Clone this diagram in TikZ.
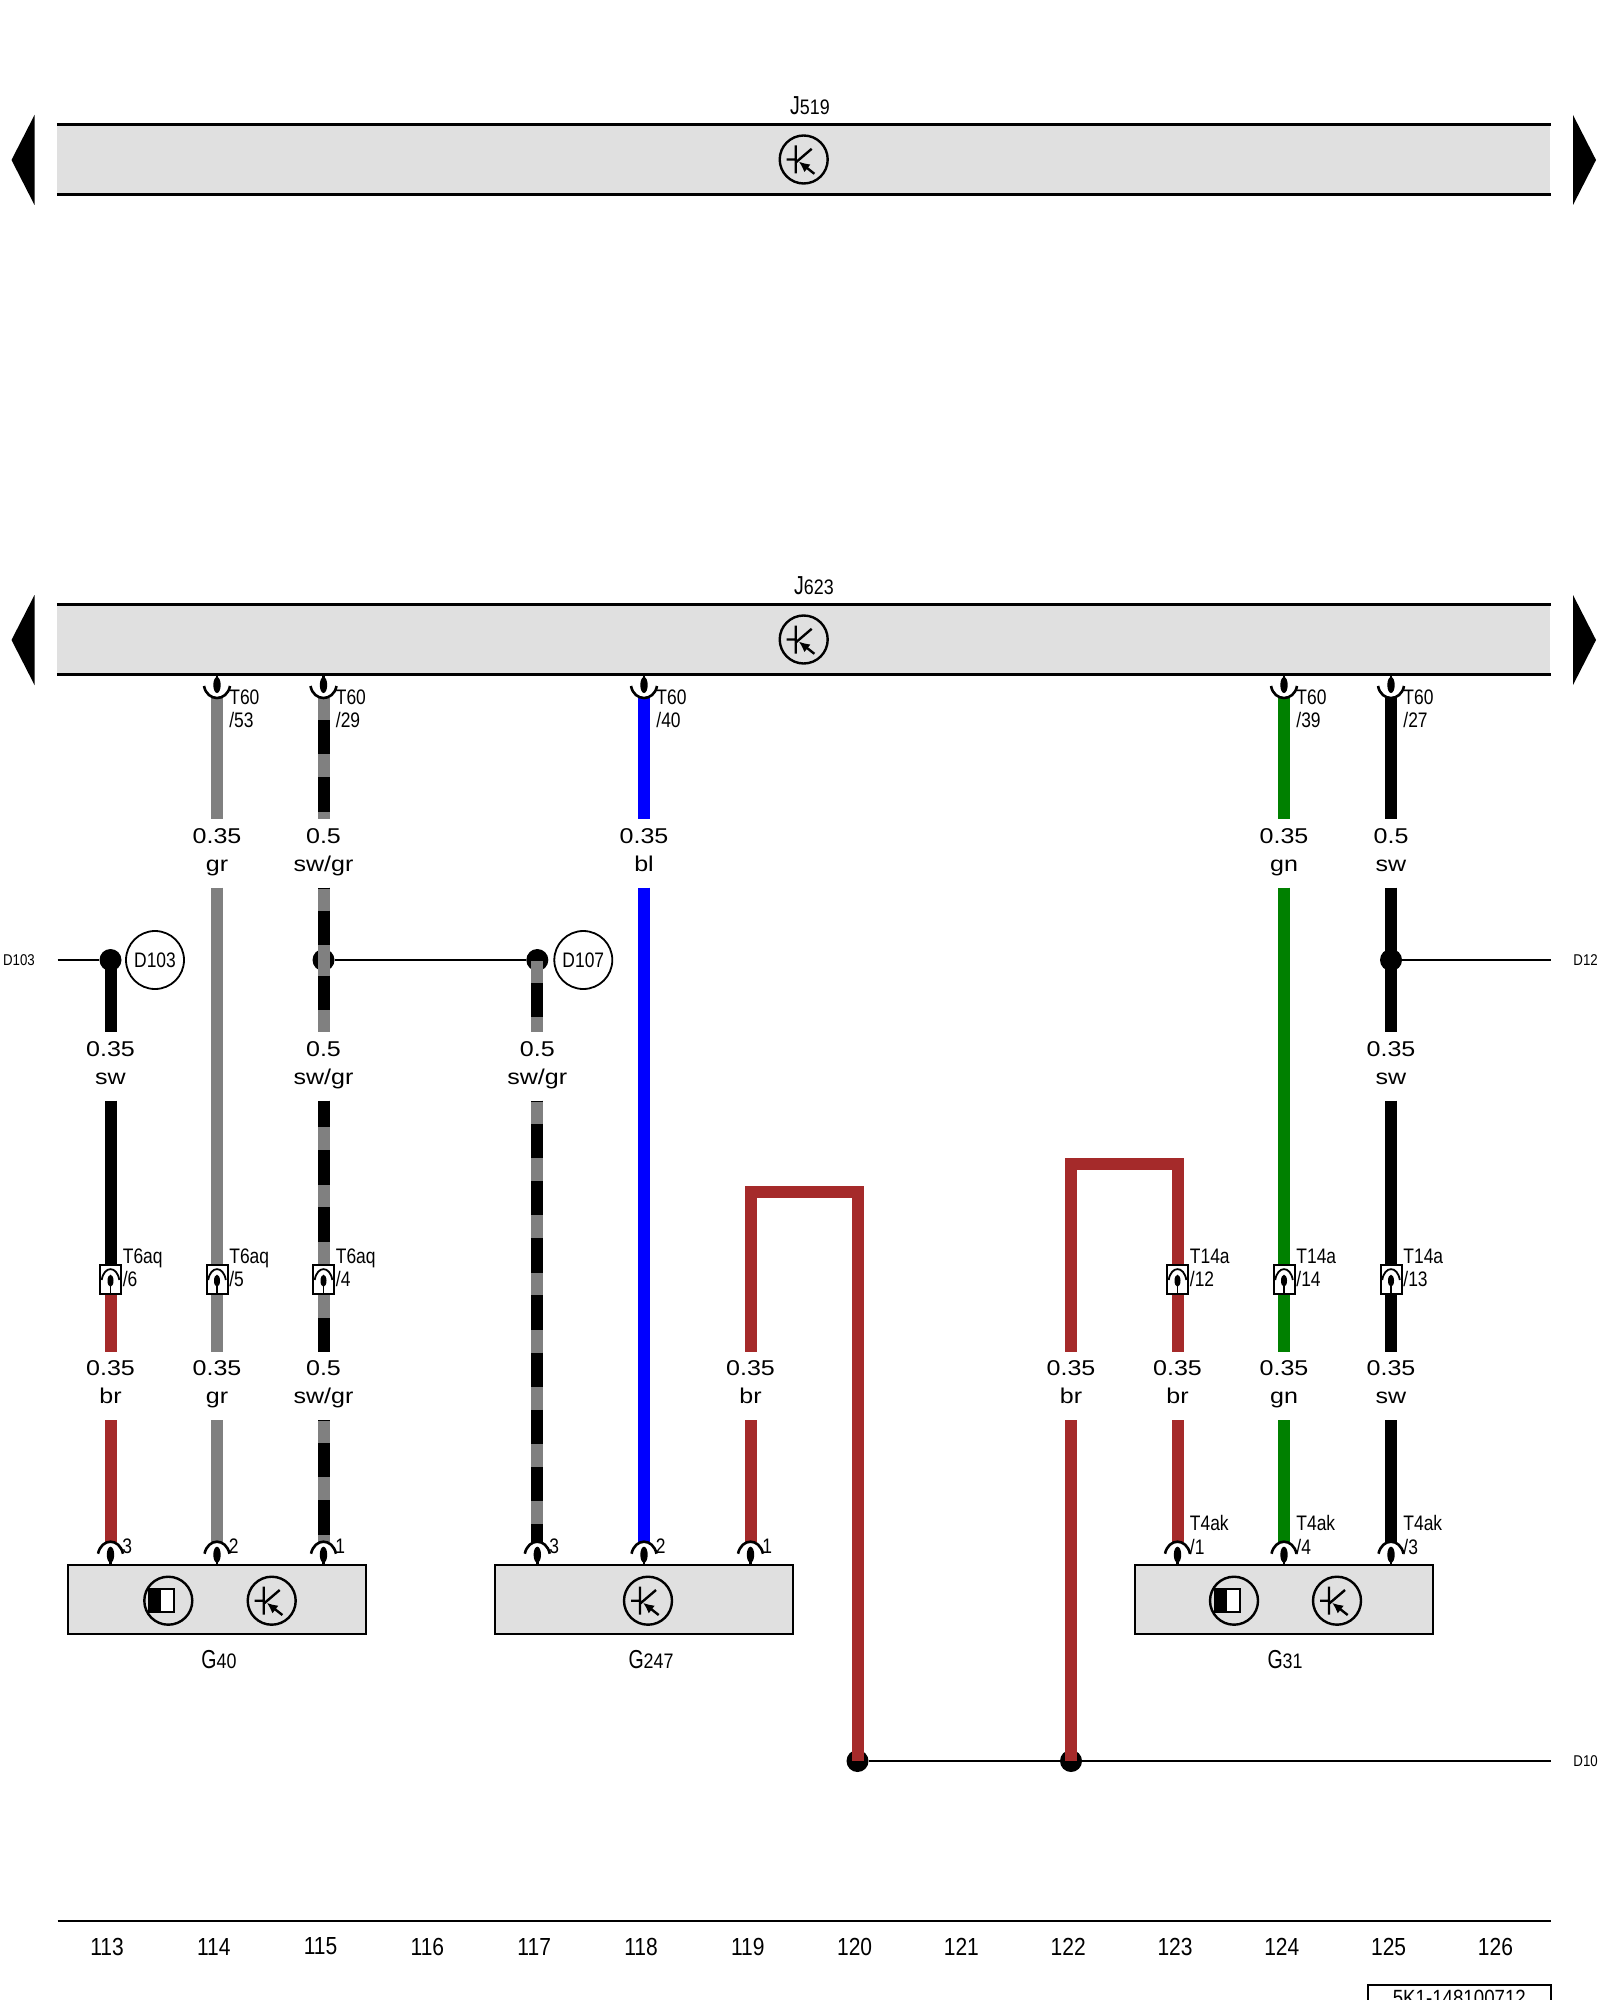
\documentclass[tikz,border=0pt]{standalone}
\usepackage{fontspec}
\usetikzlibrary{positioning,arrows.meta}
\setmainfont{Liberation Sans}
\newfontfamily\wirefont[FakeStretch=1.17]{Liberation Sans}
\newfontfamily\pinfont[FakeStretch=.83]{Liberation Sans}
\newfontfamily\bigfont[FakeStretch=.75]{Liberation Sans}
\newfontfamily\smallfont[FakeStretch=.85]{Liberation Sans}
\definecolor{wiregr}{HTML}{808080}
\definecolor{wirebr}{HTML}{A52A2A}
\definecolor{wirebl}{HTML}{0000FF}
\definecolor{wiregn}{HTML}{008000}
\definecolor{partgray}{HTML}{E0E0E0}
\newcommand{\wirelabel}[2]{\rule{0pt}{8pt}#1\\#2\rule[-4.5pt]{0pt}{4.5pt}}
\newcommand{\compname}[2]{{\bigfont\fontsize{13}{13}\selectfont #1}{\smallfont\fontsize{10.5}{13}\selectfont #2}}
\tikzset{
  wire/.style={line width=6pt},
  grwire/.style={wire, draw=wiregr},
  brwire/.style={wire, draw=wirebr},
  blwire/.style={wire, draw=wirebl},
  gnwire/.style={wire, draw=wiregn},
  swwire/.style={wire, draw=black},
  swgrwire/.style={wire, draw=wiregr, postaction={draw=black, dash pattern=on 17.15pt off 11.45pt, dash phase=#1}},
  netline/.style={line width=1.3pt},
  barline/.style={line width=1.2pt},
  partbar/.style={fill=partgray, minimum width=746.5pt, minimum height=34.5pt, inner sep=0pt},
  partbox/.style={draw, line width=1.1pt, fill=partgray, minimum width=149pt, minimum height=34.6pt, inner sep=0pt},
  gauge/.style={font=\wirefont\fontsize{10.7}{14}\selectfont, align=center, inner sep=0pt, minimum height=33.75pt},
  pinlabel/.style={font=\pinfont\fontsize{10.5}{11.7}\selectfont, align=left, anchor=west, inner sep=0pt},
  partlabel/.style={anchor=base, inner sep=0pt},
  conn/.style={draw, line width=1pt, fill=white, minimum width=10.5pt, minimum height=14.5pt, inner sep=0pt},
  junction/.style={circle, fill=black, minimum size=11pt, inner sep=0pt},
  tag/.style={circle, draw, line width=.9pt, minimum size=29pt, inner sep=0pt, font=\pinfont\fontsize{10.5}{11}\selectfont},
  netlabel/.style={font=\smallfont\fontsize{7.8}{8}\selectfont, inner sep=0pt},
  colnum/.style={font=\smallfont\fontsize{12.35}{13}\selectfont, inner sep=0pt},
  topsock/.pic={
    \draw[line width=1.3pt] (-13,-12) .. controls (-10,4) and (10,4) .. (13,-12);
    \fill (0,-13) ellipse [x radius=3.7, y radius=8];
    \draw[line width=1.2pt] (0,-24) -- (0,-13);
  },
  botsock/.pic={
    \draw[line width=1.3pt] (-12.5,12) .. controls (-9,-4) and (9,-4) .. (12.5,12);
    \fill (0,13) ellipse [x radius=3.7, y radius=8];
    \draw[line width=1.2pt] (0,13) -- (0,23.5);
  },
  connsock/.pic={
    \draw[line width=.9pt] (-8.8,0.5) .. controls (-6.5,-14) and (6.5,-14) .. (8.8,0.5);
    \fill (0,1.2) ellipse [x radius=3, y radius=6];
    \draw[line width=.9pt] (0,1) -- (0,14.5);
  },
  transis/.pic={
    \draw[line width=1.2pt] (0,0) circle [radius=24];
    \draw[line width=1.2pt] (-8,-14) -- (-8,14) (-17,0) -- (-8,0) (-8,3) -- (8,-10.7);
    \draw[line width=1.2pt, -{Latex[length=5.5pt,width=5pt]}] (10.7,14.3) -- (-5,2);
  },
  hallcell/.pic={
    \draw[line width=1.2pt] (0,0) circle [radius=24];
    \draw[line width=1.1pt, fill=white] (-19.3,-11.5) rectangle (6,11.5);
    \fill (-19.3,-11.5) rectangle (-7.3,11.5);
  }
}
\begin{document}
\begin{tikzpicture}[x=0.5pt, y=-0.5pt, on grid]
  \useasboundingbox (0,0) rectangle (1600,2000);

  \node[partbar] (J519) at (803.7,159.5) {};
  \node[partbar] (J623) at (803.7,639.5) {};
  \draw[barline] (J519.north west) -- (J519.north east) (J519.south west) -- (J519.south east);
  \draw[barline] (J623.north west) -- (J623.north east) (J623.south west) -- (J623.south east);
  \node[partlabel] (J519l) at (810,114.3) {\compname{J}{519}};
  \node[partlabel] (J623l) at (814,594) {\compname{J}{623}};
  \pic at (J519.center) {transis};
  \pic at (J623.center) {transis};

  \fill (34.5,115) -- (11.5,160) -- (34.5,205) -- cycle;
  \fill (1573,115) -- (1596,160) -- (1573,205) -- cycle;
  \fill (34.5,595) -- (11.5,640) -- (34.5,685) -- cycle;
  \fill (1573,595) -- (1596,640) -- (1573,685) -- cycle;

  \node[partbox] (G40) at (216.7,1599.7) {};
  \node[partbox] (G247) at (643.7,1599.7) {};
  \node[partbox] (G31) at (1284.2,1599.7) {};
  \node[partlabel] (G40l) at (219,1668) {\compname{G}{40}};
  \node[partlabel] (G247l) at (651,1668) {\compname{G}{247}};
  \node[partlabel] (G31l) at (1285,1668) {\compname{G}{31}};
  \pic at (168.3,1600.7) {hallcell};
  \pic at (271.7,1600.7) {transis};
  \pic at (648,1600.7) {transis};
  \pic at (1234,1600.7) {hallcell};
  \pic at (1337,1600.7) {transis};

  \coordinate (t114) at (217,698);
  \coordinate (t115) at (323.5,698);
  \coordinate (t118) at (644,698);
  \coordinate (t124) at (1284,698);
  \coordinate (t125) at (1391,698);
  \coordinate (b113) at (110.5,1541.7);
  \coordinate (b114) at (217,1541.7);
  \coordinate (b115) at (323.5,1541.7);
  \coordinate (b117) at (537.3,1541.7);
  \coordinate (b118) at (644,1541.7);
  \coordinate (b119) at (750.5,1541.7);
  \coordinate (b123) at (1177.5,1541.7);
  \coordinate (b124) at (1284,1541.7);
  \coordinate (b125) at (1391,1541.7);

  \node[gauge] (g114a) at (217,853.5) {\wirelabel{0.35}{gr}};
  \node[gauge] (g115a) [right=53.25pt of g114a] {\wirelabel{0.5}{sw/gr}};
  \node[gauge] (g118a) [right=213.5pt of g114a] {\wirelabel{0.35}{bl}};
  \node[gauge] (g124a) [right=533.5pt of g114a] {\wirelabel{0.35}{gn}};
  \node[gauge] (g125a) [right=587pt of g114a] {\wirelabel{0.5}{sw}};

  \node[gauge] (g113b) at (110.5,1066.5) {\wirelabel{0.35}{sw}};
  \node[gauge] (g115b) [right=106.5pt of g113b] {\wirelabel{0.5}{sw/gr}};
  \node[gauge] (g117b) [right=213.4pt of g113b] {\wirelabel{0.5}{sw/gr}};
  \node[gauge] (g125b) [right=640.25pt of g113b] {\wirelabel{0.35}{sw}};

  \node[gauge] (g113c) at (110.5,1386) {\wirelabel{0.35}{br}};
  \node[gauge] (g114c) [right=53.25pt of g113c] {\wirelabel{0.35}{gr}};
  \node[gauge] (g115c) [right=106.5pt of g113c] {\wirelabel{0.5}{sw/gr}};
  \node[gauge] (g119c) [right=320pt of g113c] {\wirelabel{0.35}{br}};
  \node[gauge] (g122c) [right=480.25pt of g113c] {\wirelabel{0.35}{br}};
  \node[gauge] (g123c) [right=533.5pt of g113c] {\wirelabel{0.35}{br}};
  \node[gauge] (g124c) [right=586.75pt of g113c] {\wirelabel{0.35}{gn}};
  \node[gauge] (g125c) [right=640.25pt of g113c] {\wirelabel{0.35}{sw}};

  \node[junction] (d113) at (110.5,960) {};
  \node[junction] (d115) at (323.5,960) {};
  \node[junction] (d117) at (537.3,960) {};
  \node[junction] (d125) at (1391,960) {};
  \node[junction] (d120) at (857.5,1761) {};
  \node[junction] (d122) at (1071,1761) {};
  \coordinate (k119) at (750.5,1191.5);
  \coordinate (k120) at (857.5,1191.5);
  \coordinate (k122) at (1071,1164);
  \coordinate (k123) at (1177.5,1164);

  \draw[grwire] (t114) -- (g114a.north);
  \draw[grwire] (g114a.south) -- (g114c.north);
  \draw[grwire] (g114c.south) -- (b114);

  \draw[swgrwire=17.6pt] (t115) -- (g115a.north);
  \draw[swgrwire=17.1pt] (g115a.south) -- (d115.center);
  \draw[swgrwire=20.85pt] (d115.center) -- (g115b.north);
  \draw[swgrwire=3.8pt] (g115b.south) -- (323.5,1265);
  \draw[swgrwire=16.6pt] (323.5,1294) -- (g115c.north);
  \draw[swgrwire=17.1pt] (g115c.south) -- (b115);

  \draw[swgrwire=17.1pt] (d117.center) -- (g117b.north);
  \draw[swgrwire=17pt] (g117b.south) -- (b117);

  \draw[blwire] (t118) -- (g118a.north);
  \draw[blwire] (g118a.south) -- (b118);

  \draw[gnwire] (t124) -- (g124a.north);
  \draw[gnwire] (g124a.south) -- (g124c.north);
  \draw[gnwire] (g124c.south) -- (b124);

  \draw[swwire] (t125) -- (g125a.north);
  \draw[swwire] (g125a.south) -- (g125b.north);
  \draw[swwire] (g125b.south) -- (g125c.north);
  \draw[swwire] (g125c.south) -- (b125);

  \draw[swwire] (d113.center) -- (g113b.north);
  \draw[swwire] (g113b.south) -- (110.5,1265);
  \draw[brwire] (110.5,1294) -- (g113c.north);
  \draw[brwire] (g113c.south) -- (b113);

  \draw[brwire] (g119c.north) -- (k119) -- (k120) -- (d120.center);
  \draw[brwire] (g119c.south) -- (b119);
  \draw[brwire] (g122c.north) -- (k122) -- (k123) -- (g123c.north);
  \draw[brwire] (d122.center) -- (g122c.south);
  \draw[brwire] (g123c.south) -- (b123);

  \node[conn] (c113) at (110.5,1279.5) {};
  \node[conn] (c114) [right=53.25pt of c113] {};
  \node[conn] (c115) [right=106.5pt of c113] {};
  \node[conn] (c123) [right=533.5pt of c113] {};
  \node[conn] (c124) [right=586.75pt of c113] {};
  \node[conn] (c125) [right=640.25pt of c113] {};

  \coordinate (e103) at (57.5,960);
  \coordinate (e12) at (1550.7,960);
  \coordinate (e10) at (1550.7,1761);
  \draw[netline] (e103) -- (d113);
  \draw[netline] (d115) -- (d117);
  \draw[netline] (d125) -- (e12);
  \draw[netline] (d120) -- (d122) -- (e10);

  \node[tag] (D103) at (155,960) {D103};
  \node[tag] (D107) at (583.3,960) {D107};
  \node[netlabel] (D103l) at (19,960.5) {D103};
  \node[netlabel, anchor=west] (D12l) at (1573,960.5) {D12};
  \node[netlabel, anchor=west] (D10l) at (1573,1761) {D10};

  \pic at (t114) {topsock};
  \pic at (t115) {topsock};
  \pic at (t118) {topsock};
  \pic at (t124) {topsock};
  \pic at (t125) {topsock};
  \pic at (b113) {botsock};
  \pic at (b114) {botsock};
  \pic at (b115) {botsock};
  \pic at (b117) {botsock};
  \pic at (b118) {botsock};
  \pic at (b119) {botsock};
  \pic at (b123) {botsock};
  \pic at (b124) {botsock};
  \pic at (b125) {botsock};
  \pic at (c113.center) {connsock};
  \pic at (c114.center) {connsock};
  \pic at (c115.center) {connsock};
  \pic at (c123.center) {connsock};
  \pic at (c124.center) {connsock};
  \pic at (c125.center) {connsock};

  \node[pinlabel] (l114) at (229,709) {T60\\/53};
  \node[pinlabel] (l115) at (335.5,709) {T60\\/29};
  \node[pinlabel] (l118) at (656,709) {T60\\/40};
  \node[pinlabel] (l124) at (1296,709) {T60\\/39};
  \node[pinlabel] (l125) at (1403,709) {T60\\/27};
  \node[pinlabel] (m113) at (122.5,1268) {T6aq\\/6};
  \node[pinlabel] (m114) at (229,1268) {T6aq\\/5};
  \node[pinlabel] (m115) at (335.5,1268) {T6aq\\/4};
  \node[pinlabel] (m123) at (1189.5,1268) {T14a\\/12};
  \node[pinlabel] (m124) at (1296,1268) {T14a\\/14};
  \node[pinlabel] (m125) at (1403,1268) {T14a\\/13};
  \node[pinlabel] (n113) at (122,1546) {3};
  \node[pinlabel] (n114) at (228.5,1546) {2};
  \node[pinlabel] (n115) at (335,1546) {1};
  \node[pinlabel] (n117) at (549,1546) {3};
  \node[pinlabel] (n118) at (655.5,1546) {2};
  \node[pinlabel] (n119) at (762,1546) {1};
  \node[pinlabel] (n123) at (1189.5,1535) {T4ak\\/1};
  \node[pinlabel] (n124) at (1296,1535) {T4ak\\/4};
  \node[pinlabel] (n125) at (1403,1535) {T4ak\\/3};

  \coordinate (ra) at (57.5,1920.7);
  \coordinate (rb) at (1550.7,1920.7);
  \draw[barline] (ra) -- (rb);
  \node[colnum] (p113) at (107,1946.5) {113};
  \node[colnum] (p114) [right=53.4pt of p113] {114};
  \node[colnum] (p115) [right=53.4pt of p114] {115};
  \node[colnum] (p116) [right=53.4pt of p115] {116};
  \node[colnum] (p117) [right=53.4pt of p116] {117};
  \node[colnum] (p118) [right=53.4pt of p117] {118};
  \node[colnum] (p119) [right=53.4pt of p118] {119};
  \node[colnum] (p120) [right=53.4pt of p119] {120};
  \node[colnum] (p121) [right=53.4pt of p120] {121};
  \node[colnum] (p122) [right=53.4pt of p121] {122};
  \node[colnum] (p123) [right=53.4pt of p122] {123};
  \node[colnum] (p124) [right=53.4pt of p123] {124};
  \node[colnum] (p125) [right=53.4pt of p124] {125};
  \node[colnum] (p126) [right=53.4pt of p125] {126};
  \node[draw, line width=1pt, anchor=north, minimum width=91.35pt, inner xsep=0pt, inner ysep=2pt, text height=8pt, text depth=20pt, font=\smallfont\fontsize{11}{12}\selectfont] (refno) at (1459.3,1984) {5K1-148100712};
\end{tikzpicture}
\end{document}
